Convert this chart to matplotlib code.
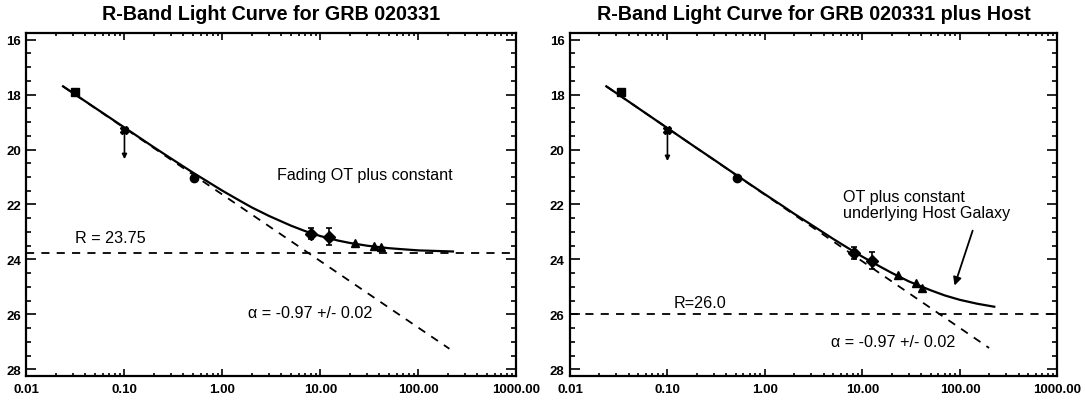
import matplotlib

matplotlib.use("Agg")
import matplotlib.pyplot as plt  # noqa: E402
from matplotlib.ticker import FixedLocator, FixedFormatter, LogLocator, MultipleLocator, NullFormatter  # noqa: E402

plt.rcParams["font.family"] = ["Liberation Sans", "DejaVu Sans"]

# ---- data ------------------------------------------------------------------
# observed points (days since burst, R magnitude)
obs_t_left = [0.031, 0.10, 0.51, 8.1, 12.3, 22.4, 35.0, 41.5]
obs_mag_left = [17.92, 19.28, 21.04, 23.07, 23.17, 23.40, 23.51, 23.56]
obs_err_left = [0.0, 0.0, 0.05, 0.20, 0.30, 0.04, 0.04, 0.04]

obs_t_right = [0.033, 0.10, 0.52, 8.1, 12.5, 22.9, 35.2, 41.2]
obs_mag_right = [17.92, 19.28, 21.04, 23.77, 24.04, 24.56, 24.87, 25.03]
obs_err_right = [0.0, 0.0, 0.05, 0.21, 0.32, 0.05, 0.05, 0.05]

obs_markers = ["s", "X", "o", "D", "D", "^", "^", "^"]

# upper limit at t = 0.1 d (arrow tip magnitude)
limit_t = 0.10
limit_tip_left = 20.35
limit_tip_right = 20.42

# fitted curves
curve_t = [0.0236, 0.03, 0.05, 0.1, 0.2, 0.3, 0.5, 0.7, 1.0, 1.5, 2.0, 3.0,
           5.0, 7.0, 10.0, 15.0, 20.0, 30.0, 50.0, 70.0, 100.0, 150.0, 225.0]
curve_mag_left = [17.70, 17.95, 18.48, 19.20, 19.92, 20.33, 20.84, 21.16, 21.50,
                  21.86, 22.11, 22.42, 22.77, 22.97, 23.15, 23.31, 23.40, 23.50,
                  23.59, 23.63, 23.67, 23.69, 23.71]
curve_mag_right = [17.70, 17.95, 18.49, 19.22, 19.95, 20.37, 20.91, 21.26, 21.63,
                   22.04, 22.34, 22.74, 23.25, 23.57, 23.90, 24.25, 24.49, 24.80,
                   25.12, 25.31, 25.47, 25.61, 25.72]

powerlaw_t_left = [0.0236, 207.0]
powerlaw_mag_left = [17.70, 27.25]
powerlaw_t_right = [0.0236, 199.0]
powerlaw_mag_right = [17.70, 27.22]

const_left = 23.75
const_right = 26.0

x_ticks = [0.01, 0.1, 1.0, 10.0, 100.0, 1000.0]
x_tick_labels = ["0.01", "0.10", "1.00", "10.00", "100.00", "1000.00"]
y_ticks = [16, 18, 20, 22, 24, 26, 28]

DASH = (0, (4.5, 4))


def style_axes(ax, title):
    ax.set_xscale("log")
    ax.set_xlim(0.01, 1000)
    ax.set_ylim(28.23, 15.76)
    ax.xaxis.set_major_locator(FixedLocator(x_ticks))
    ax.xaxis.set_major_formatter(FixedFormatter(x_tick_labels))
    ax.xaxis.set_minor_locator(LogLocator(base=10, subs=range(2, 10), numticks=20))
    ax.xaxis.set_minor_formatter(NullFormatter())
    ax.yaxis.set_major_locator(FixedLocator(y_ticks))
    ax.yaxis.set_minor_locator(MultipleLocator(0.5))
    ax.tick_params(which="both", direction="in", top=True, right=True,
                   labelsize=9.5, width=1.2)
    ax.tick_params(axis="x", which="major", length=5, pad=5)
    ax.tick_params(axis="x", which="minor", length=2.5)
    ax.tick_params(axis="y", which="major", length=7, pad=4)
    ax.tick_params(axis="y", which="minor", length=3.5)
    for lab in ax.get_xticklabels() + ax.get_yticklabels():
        lab.set_fontweight("bold")
    for sp in ax.spines.values():
        sp.set_linewidth(1.6)
    ax.set_title(title, fontsize=14.2, fontweight="bold", pad=10)


def draw_panel(ax, t, mag, err, tip, curve_mag, pl_t, pl_mag, const):
    ax.plot(curve_t, curve_mag, color="black", lw=1.6)
    ax.plot(pl_t, pl_mag, color="black", lw=1.3, ls=DASH)
    ax.axhline(const, color="black", lw=1.3, ls=DASH)
    for ti, mi, ei, mk in zip(t, mag, err, obs_markers):
        if ei > 0.1:
            ax.errorbar(ti, mi, yerr=ei, fmt="none", ecolor="black",
                        elinewidth=1.2, capsize=2.5, capthick=1.2)
        ax.plot(ti, mi, marker=mk, color="black", ms=6, ls="none")
    ax.annotate("", xy=(limit_t, tip), xytext=(limit_t, mag[1]),
                arrowprops=dict(arrowstyle="-|>", color="black", lw=1.2,
                                mutation_scale=7, shrinkA=0, shrinkB=0))


fig = plt.figure(figsize=(10.85, 4.02), dpi=100)
ax_l = fig.add_axes([0.0244, 0.0629, 0.4516, 0.8525])
ax_r = fig.add_axes([0.5253, 0.0629, 0.4493, 0.8525])

draw_panel(ax_l, obs_t_left, obs_mag_left, obs_err_left, limit_tip_left,
           curve_mag_left, powerlaw_t_left, powerlaw_mag_left, const_left)
draw_panel(ax_r, obs_t_right, obs_mag_right, obs_err_right, limit_tip_right,
           curve_mag_right, powerlaw_t_right, powerlaw_mag_right, const_right)

style_axes(ax_l, "R-Band Light Curve for GRB 020331")
style_axes(ax_r, "R-Band Light Curve for GRB 020331 plus Host")

# annotations
ax_l.text(3.6, 20.9, "Fading OT plus constant", fontsize=11.6, ha="left", va="center")
ax_l.text(0.031, 23.19, "R = 23.75", fontsize=11.6, ha="left", va="center")
ax_l.text(1.81, 25.92, "\u03b1 = -0.97 +/- 0.02", fontsize=11.6, ha="left", va="center")

ax_r.text(6.35, 22.0, "OT plus constant\nunderlying Host Galaxy", fontsize=11.6,
          ha="left", va="center", linespacing=1.15)
ax_r.text(0.115, 25.58, "R=26.0", fontsize=11.6, ha="left", va="center")
ax_r.text(4.8, 27.0, "\u03b1 = -0.97 +/- 0.02", fontsize=11.6, ha="left", va="center")
ax_r.annotate("", xy=(88, 24.95), xytext=(135, 22.95),
              arrowprops=dict(arrowstyle="-|>", color="black", lw=1.3,
                              mutation_scale=12, shrinkA=0, shrinkB=0))

fig.savefig("out.png", dpi=100)
plt.close(fig)
